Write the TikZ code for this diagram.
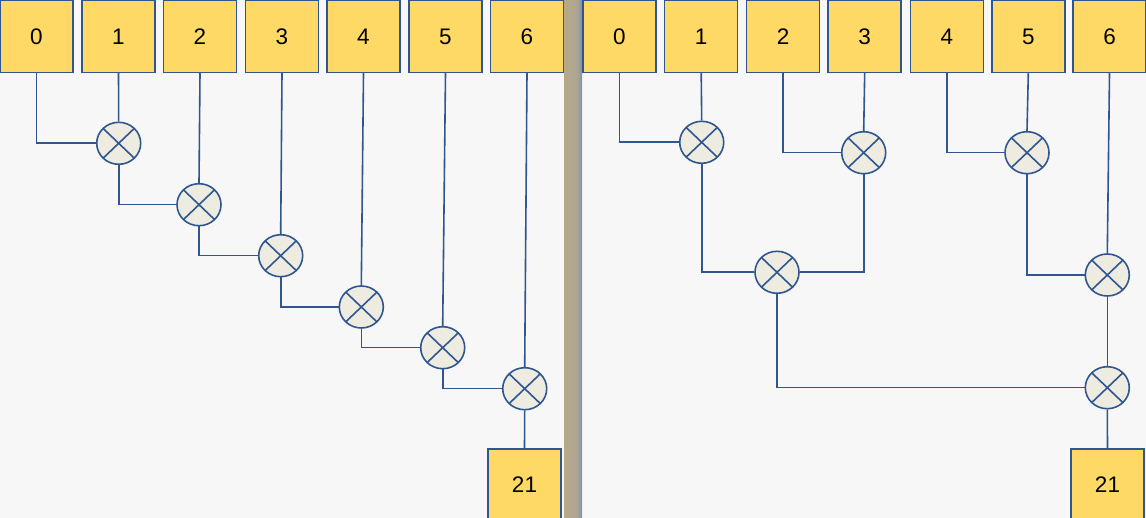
\documentclass[tikz,border=0pt]{standalone}
\usepackage{fontspec}
\setmainfont{Liberation Sans}
\usetikzlibrary{shapes.geometric}
\definecolor{bgc}{HTML}{F7F7F7}
\definecolor{boxfill}{HTML}{FFD966}
\definecolor{edgec}{HTML}{2F5690}
\definecolor{mulfill}{HTML}{EEECE1}
\definecolor{divA}{RGB}{184,168,137}
\definecolor{divB}{RGB}{172,165,145}
\definecolor{divC}{RGB}{122,148,178}
\pgfdeclarehorizontalshading{divshade}{100bp}{color(0bp)=(divA); color(25bp)=(divA); color(62bp)=(divB); color(75bp)=(divC); color(100bp)=(divC)}
\tikzset{
  inbox/.style={draw=edgec, line width=1.5pt, fill=boxfill, minimum width=73pt, minimum height=72pt, inner sep=0pt, font=\fontsize{22.5}{26}\selectfont},
  mul/.style={ellipse, draw=edgec, line width=1.6pt, fill=mulfill, minimum width=44pt, minimum height=42pt, inner sep=0pt,
    path picture={\draw[edgec, line width=1.6pt] (path picture bounding box.north west) -- (path picture bounding box.south east)
      (path picture bounding box.north east) -- (path picture bounding box.south west);}},
  wire/.style={draw=edgec, line width=1.6pt}
}
\begin{document}
\begin{tikzpicture}[x=1pt,y=-1pt]
\useasboundingbox (0,0) rectangle (1146,518);
\clip (0,0) rectangle (1146,518);
\fill[bgc] (0,0) rectangle (1146,518);
\shade[shading=divshade] (564,0) rectangle (582,518);

% left boxes
\node[inbox] (a0) at (36.5,36.5) {0};
\node[inbox] (a1) at (118.5,36.5) {1};
\node[inbox] (a2) at (200,36.5) {2};
\node[inbox] (a3) at (282,36.5) {3};
\node[inbox] (a4) at (363.5,36.5) {4};
\node[inbox] (a5) at (445.5,36.5) {5};
\node[inbox] (a6) at (527,36.5) {6};
\node[inbox] (aout) at (524.5,485) {21};

% left multipliers
\node[mul] (c1) at (118.7,143.3) {};
\node[mul] (c2) at (199,204.7) {};
\node[mul] (c3) at (280.7,255.7) {};
\node[mul] (c4) at (361.3,307) {};
\node[mul] (c5) at (442.7,347.7) {};
\node[mul] (c6) at (524.7,388.7) {};

\path[wire] (a0.south) |- (c1.west);
\path[wire] (a1.south) -- (c1.north);
\path[wire] (c1.south) |- (c2.west);
\path[wire] (a2.south) -- (c2.north);
\path[wire] (c2.south) |- (c3.west);
\path[wire] (a3.south) -- (c3.north);
\path[wire] (c3.south) |- (c4.west);
\path[wire] (a4.south) -- (c4.north);
\path[wire] (c4.south) |- (c5.west);
\path[wire] (a5.south) -- (c5.north);
\path[wire] (c5.south) |- (c6.west);
\path[wire] (a6.south) -- (c6.north);
\path[wire] (c6.south) -- (aout.north);

% right boxes
\node[inbox] (b0) at (619.3,36.5) {0};
\node[inbox] (b1) at (701.2,36.5) {1};
\node[inbox] (b2) at (783,36.5) {2};
\node[inbox] (b3) at (864.7,36.5) {3};
\node[inbox] (b4) at (946.8,36.5) {4};
\node[inbox] (b5) at (1028.3,36.5) {5};
\node[inbox] (b6) at (1109.5,36.5) {6};
\node[inbox] (bout) at (1107.5,485) {21};

% right multipliers
\node[mul] (r1) at (701.7,142.3) {};
\node[mul] (r2) at (863.7,152.7) {};
\node[mul] (r3) at (1027,152.7) {};
\node[mul] (r4) at (777,272.3) {};
\node[mul] (r5) at (1107.3,275) {};
\node[mul] (r6) at (1107.3,387.7) {};

\path[wire] (b0.south) |- (r1.west);
\path[wire] (b1.south) -- (r1.north);
\path[wire] (b2.south) |- (r2.west);
\path[wire] (b3.south) -- (r2.north);
\path[wire] (b4.south) |- (r3.west);
\path[wire] (b5.south) -- (r3.north);
\path[wire] (r1.south) |- (r4.west);
\path[wire] (r2.south) |- (r4.east);
\path[wire] (r3.south) |- (r5.west);
\path[wire] (b6.south) -- (r5.north);
\path[wire] (r5.south) -- (r6.north);
\path[wire] (r4.south) |- (r6.west);
\path[wire] (r6.south) -- (bout.north);
\end{tikzpicture}
\end{document}
